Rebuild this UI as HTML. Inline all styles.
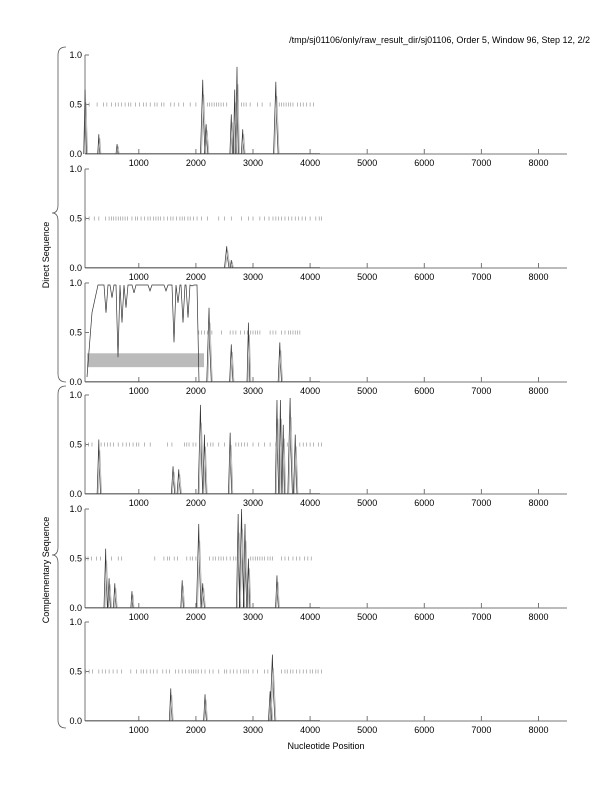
<!DOCTYPE html>
<html><head><style>
body{margin:0;background:#fff}
svg{display:block;font-family:"Liberation Sans",sans-serif}
</style></head><body>
<svg id="s" width="612" height="792" viewBox="0 0 612 792" xmlns="http://www.w3.org/2000/svg">
<text x="590" y="43" font-size="9" text-anchor="end" fill="#000">/tmp/sj01106/only/raw_result_dir/sj01106, Order 5, Window 96, Step 12, 2/2</text>
<text x="0" y="0" font-size="9" transform="translate(49,255) rotate(-90)" text-anchor="middle">Direct Sequence</text>
<text x="0" y="0" font-size="9" transform="translate(49,570) rotate(-90)" text-anchor="middle">Complementary Sequence</text>
<text x="326" y="749" font-size="9" text-anchor="middle">Nucleotide Position</text>
<path d="M66,47 Q58,47 58,55 L58,205 Q58,213 52,213 Q58,213 58,221 L58,374 Q58,382 66,382" fill="none" stroke="#555" stroke-width="0.8"/>
<path d="M66,386 Q58,386 58,394 L58,547 Q58,555 52,555 Q58,555 58,563 L58,720 Q58,728 66,728" fill="none" stroke="#555" stroke-width="0.8"/>
<g id="g"></g>
</svg>
<script>
const g=document.getElementById('g');
const X=n=>81.7+n*0.0571;
const tops=[55,169,283,395,509,622];
let h='';
const P=[
 {pk:[[60,0.65,25],[300,0.2,20],[620,0.1,20],[2120,0.75,40],[2180,0.3,30],[2620,0.4,25],[2680,0.65,25],[2720,0.88,25],[2820,0.25,25],[3400,0.73,40]],
  d:[70,130,270,380,440,520,590,640,700,760,820,860,940,1010,1080,1130,1200,1280,1320,1400,1440,1560,1620,1700,1780,1900,2000,2200,2240,2280,2320,2360,2400,2440,2480,2540,2800,2840,2880,2950,3080,3160,3300,3460,3500,3540,3580,3620,3660,3700,3780,3830,3880,3940,4000,4060]},
 {pk:[[2540,0.22,40],[2620,0.08,20]],
  d:[70,130,220,300,420,480,520,560,600,640,680,720,760,800,880,940,980,1040,1100,1160,1200,1260,1300,1340,1380,1440,1500,1560,1600,1660,1720,1760,1800,1860,1900,1960,2020,2100,2200,2400,2500,2620,2800,2920,3000,3120,3200,3280,3350,3400,3450,3500,3560,3620,3680,3740,3800,3860,3920,4000,4100,4160,4200]},
 {pk:[[2230,0.75,40],[2620,0.38,30],[2920,0.6,25],[3470,0.4,30]],
  d:[2050,2100,2150,2200,2280,2450,2600,2650,2700,2780,2850,2900,2960,3000,3040,3080,3120,3300,3350,3400,3500,3560,3620,3660,3700,3740,3780,3820],high:true},
 {pk:[[300,0.55,30],[1600,0.28,30],[1700,0.25,30],[2080,0.9,40],[2150,0.6,30],[2600,0.62,30],[3420,0.95,30],[3480,0.95,25],[3530,0.7,25],[3650,0.97,40],[3740,0.6,30]],
  d:[70,120,180,340,400,450,500,560,640,720,780,840,900,960,1000,1100,1200,1500,1580,1800,1840,1880,1950,2000,2200,2260,2300,2400,2500,2700,2750,2800,2850,2900,3000,3100,3200,3300,3400,3500,3600,3820,3880,3940,4000,4060,4150,4200]},
 {pk:[[420,0.6,30],[480,0.3,25],[580,0.25,25],[880,0.17,20],[1760,0.28,25],[2050,0.85,40],[2120,0.25,30],[2740,0.95,30],[2800,1.0,40],[2860,0.85,30],[2920,0.5,25],[3420,0.33,25]],
  d:[70,110,170,260,330,520,640,700,1280,1440,1500,1540,1620,1680,1840,1900,1940,2000,2240,2300,2340,2400,2440,2480,2540,2600,2660,2700,2960,3000,3040,3080,3120,3160,3200,3260,3300,3340,3500,3560,3620,3700,3760,3820,3900,3960,4020]},
 {pk:[[1560,0.33,25],[2160,0.27,25],[3340,0.67,45],[3300,0.3,30]],
  d:[70,130,190,300,360,420,480,550,620,700,860,960,1040,1080,1140,1200,1260,1320,1420,1480,1540,1640,1700,1760,1820,1880,1920,1960,2000,2040,2100,2160,2240,2300,2400,2500,2540,2600,2660,2720,2780,2840,2880,2920,3000,3080,3200,3260,3500,3560,3600,3660,3700,3760,3820,3880,3940,4000,4040,4100,4140,4200]}
];
tops.forEach((t,i)=>{
 const b=t+99, Y=v=>b-v*99;
 const p=P[i];
 // axes
 h+=`<line x1="85" y1="${t}" x2="85" y2="${b}" stroke="#777" stroke-width="1"/>`;
 h+=`<line x1="85" y1="${b}" x2="567" y2="${b}" stroke="#777" stroke-width="1"/>`;
 [[0,'0.0'],[0.5,'0.5'],[1,'1.0']].forEach(([v,l])=>{
  h+=`<line x1="85" y1="${Y(v)}" x2="89" y2="${Y(v)}" stroke="#777"/>`;
  h+=`<text x="82" y="${Y(v)+3}" font-size="9" text-anchor="end">${l}</text>`;});
 for(let k=1;k<=8;k++){const x=X(k*1000);h+=`<line x1="${x}" y1="${b}" x2="${x}" y2="${b-5}" stroke="#777"/><text x="${x}" y="${b+12}" font-size="9" text-anchor="middle">${k*1000}</text>`;}
 if(p.high){
  h+=`<rect x="87" y="${Y(0.29)}" width="117" height="${99*0.14}" fill="#bbb"/>`;
  // high-region line
  let s=`M87,${Y(0.05)} L92,${Y(0.7)} L98,${Y(0.98)}`;
  let x=98;
  const dips=[[106,0.7],[112,0.85],[118,0.25],[122,0.6],[126,0.75],[134,0.9],[150,0.92],[166,0.92],[174,0.4],[178,0.8],[183,0.6],[188,0.65],[192,0.97]];
  dips.forEach(([dx,v])=>{s+=` L${dx-2},${Y(0.98)} L${dx},${Y(v)} L${dx+2},${Y(0.98)}`;});
  s+=` L197,${Y(0.98)} L199,${Y(0)}`;
  h+=`<path d="${s}" fill="none" stroke="#333" stroke-width="0.7"/>`;
 }
 p.d.forEach(n=>{const x=X(n);h+=`<line x1="${x}" y1="${Y(0.5)-2}" x2="${x}" y2="${Y(0.5)+2}" stroke="#999" stroke-width="0.7"/>`;});
 p.pk.forEach(([n,v,w])=>{
  const x=X(n),hw=w*0.0571;
  h+=`<path d="M${x-hw},${b} L${x-hw*0.4},${Y(v*0.6)} L${x},${Y(v)} L${x+hw*0.3},${Y(v*0.5)} L${x+hw},${b}" fill="none" stroke="#333" stroke-width="0.7"/>`;
  h+=`<path d="M${x-hw+1},${b} L${x+1},${Y(v*0.8)} L${x+hw+1},${b}" fill="none" stroke="#aaa" stroke-width="0.7"/>`;
 });
 h+=`<line x1="85" y1="${b-0.5}" x2="320" y2="${b-0.5}" stroke="#444" stroke-width="0.6"/>`;
});
g.innerHTML=h;
</script>
</body></html>
